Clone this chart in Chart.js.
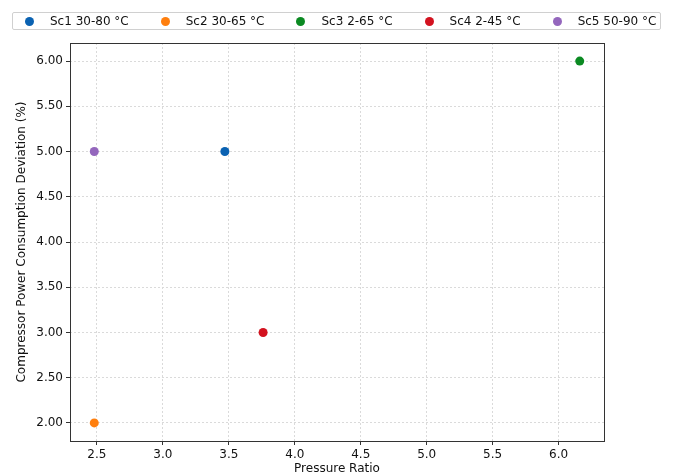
<!DOCTYPE html>
<html>
<head>
<meta charset="utf-8">
<script src="https://cdn.jsdelivr.net/npm/chart.js@4"></script>
<style>
  body { margin: 0; background: #fff; }
  #wrap { position: relative; width: 673px; height: 476px; }
  #legend {
    position: absolute; left: 12px; top: 12px; width: 649px; height: 18px;
    border: 1px solid #d0d0d0; border-radius: 2px;
    display: flex; align-items: center; padding-left: 12px; box-sizing: border-box;
    font: 12px "DejaVu Sans", sans-serif; color: #111;
  }
  .item { display: flex; align-items: center; margin-right: 32px; white-space: nowrap; }
  .dot { width: 9px; height: 9px; border-radius: 50%; margin-right: 16px; }
</style>
</head>
<body>
<div id="wrap">
  <canvas id="chart" width="673" height="476"></canvas>
  <div id="legend"></div>
</div>
<script>
const scenarios = ['Sc1 30-80 °C', 'Sc2 30-65 °C', 'Sc3 2-65 °C', 'Sc4 2-45 °C', 'Sc5 50-90 °C'];
const pressureRatio = [3.47, 2.48, 6.16, 3.76, 2.48];
const powerDeviation = [5.0, 2.0, 6.0, 3.0, 5.0];
const colors = ['#0a62b2', '#ff7f0e', '#0b8a22', '#d3121f', '#9467bd'];

// spines around the plot area
const frame = {
  id: 'frame',
  beforeDatasetsDraw(chart) {
    const a = chart.chartArea, ctx = chart.ctx;
    ctx.save();
    ctx.strokeStyle = '#333';
    ctx.lineWidth = 1;
    ctx.strokeRect(Math.round(a.left) + 0.5, Math.round(a.top) + 0.5,
      Math.round(a.right - a.left), Math.round(a.bottom - a.top));
    ctx.restore();
  }
};

const font = { family: '"DejaVu Sans", sans-serif', size: 12 };

const chart = new Chart(document.getElementById('chart'), {
  type: 'scatter',
  data: {
    datasets: scenarios.map((name, i) => ({
      label: name,
      data: [{ x: pressureRatio[i], y: powerDeviation[i] }],
      backgroundColor: colors[i],
      borderColor: colors[i],
      pointRadius: 4.5,
      pointHoverRadius: 4.5,
      borderWidth: 0
    }))
  },
  options: {
    responsive: false,
    animation: false,
    layout: { padding: { top: 43, right: 69, left: 0, bottom: 0 } },
    plugins: { legend: { display: false }, tooltip: { enabled: false } },
    scales: {
      x: {
        type: 'linear',
        min: 2.296, max: 6.344,
        ticks: { stepSize: 0.5, includeBounds: false, color: '#111', font,
          callback: v => v.toFixed(1) },
        grid: { color: '#dadada', tickColor: '#333', tickLength: 4 },
        border: { display: false, dash: [2, 2] },
        title: { display: true, text: 'Pressure Ratio', color: '#111', font, padding: 0 },
        afterFit: s => { s.height = 35; }
      },
      y: {
        min: 1.8, max: 6.2,
        ticks: { stepSize: 0.5, includeBounds: false, color: '#111', font,
          callback: v => v.toFixed(2) },
        grid: { color: '#dadada', tickColor: '#333', tickLength: 4 },
        border: { display: false, dash: [2, 2] },
        title: { display: true, text: 'Compressor Power Consumption Deviation (%)',
          color: '#111', font, padding: { top: 15, bottom: 0 } },
        afterFit: s => { s.width = 70; }
      }
    }
  },
  plugins: [frame]
});

// html legend built from the datasets
const legend = document.getElementById('legend');
chart.data.datasets.forEach(ds => {
  const item = document.createElement('div');
  item.className = 'item';
  const dot = document.createElement('span');
  dot.className = 'dot';
  dot.style.background = ds.backgroundColor;
  item.appendChild(dot);
  item.appendChild(document.createTextNode(ds.label));
  legend.appendChild(item);
});
</script>
</body>
</html>
